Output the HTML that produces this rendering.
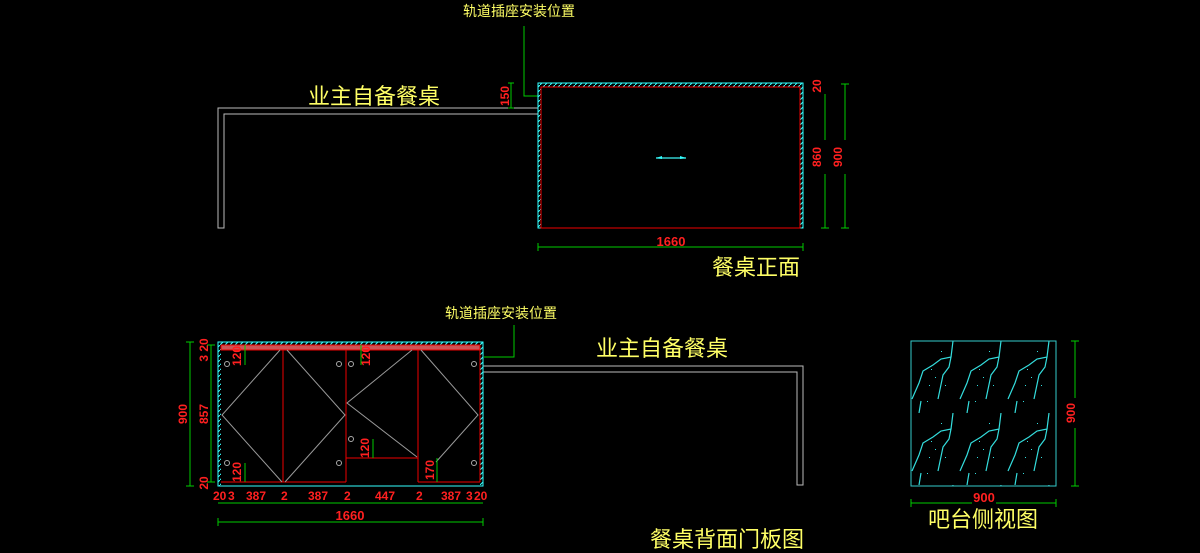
<!DOCTYPE html>
<html><head><meta charset="utf-8"><style>
html,body{margin:0;padding:0;background:#000;width:1200px;height:553px;overflow:hidden}
svg{display:block}
text{font-family:"Liberation Sans","Noto Sans CJK SC",sans-serif}
.y{fill:#ffff66}
.r{fill:#ff2020;font-family:"Liberation Sans Narrow","Liberation Sans",sans-serif;font-weight:bold}
</style></head><body>
<svg width="1200" height="553" viewBox="0 0 1200 553" xmlns="http://www.w3.org/2000/svg">
<defs>
<pattern id="hatch" width="5" height="5" patternUnits="userSpaceOnUse">
<path d="M0,5 L5,0" stroke="#3ff" stroke-width="1"/>
</pattern>
<pattern id="crack" x="911" y="341" width="48" height="72" patternUnits="userSpaceOnUse">
<path d="M1,58 L8,42 L12,30 L22,24 L30,18 L40,16 L38,26 L32,34 L27,58 M40,16 L42,0 M10,60 L8,72" stroke="#3dd" stroke-width="1.2" fill="none"/>
<g fill="#3dd"><rect x="20" y="28" width="1" height="1"/><rect x="24" y="36" width="1" height="1"/><rect x="18" y="44" width="1" height="1"/><rect x="34" y="44" width="1" height="1"/><rect x="30" y="10" width="1" height="1"/><rect x="16" y="60" width="1" height="1"/></g>
</pattern>
</defs>

<!-- TOP VIEW -->
<text x="463" y="16" class="y" font-size="14">轨道插座安装位置</text>
<path d="M524,26 V96 H538" stroke="#0c0" fill="none"/>
<text x="308" y="104" class="y" font-size="22">业主自备餐桌</text>
<path d="M538,108 H218 V228 H224 V114 H538" stroke="#bbb" fill="none"/>
<rect x="538" y="83" width="265" height="145" fill="none" stroke="#3ff" stroke-width="1"/>
<rect x="538" y="83" width="265" height="4" fill="url(#hatch)"/>
<rect x="538" y="83" width="3" height="145" fill="url(#hatch)"/>
<rect x="800" y="83" width="3" height="145" fill="url(#hatch)"/>
<rect x="541" y="87" width="259" height="141" fill="none" stroke="#e00"/>
<path d="M656,158 H686" stroke="#3cc" stroke-width="1.5"/>
<path d="M656,158 l6,-2 v3z M686,158 l-6,-2 v3z" fill="#3ff"/>
<path d="M511,83 V108 M508,83 h6 M508,108 h6" stroke="#0c0"/>
<text class="r" font-size="12" transform="translate(509,96) rotate(-90)" text-anchor="middle">150</text>
<path d="M825,84 V228 M821,228 h8 M845,84 V228 M841,84 h8 M841,228 h8" stroke="#0c0"/>
<rect x="812" y="80" width="14" height="14" fill="#000"/>
<text class="r" font-size="12" transform="translate(821,86) rotate(-90)" text-anchor="middle">20</text>
<rect x="810" y="140" width="18" height="34" fill="#000"/>
<text class="r" font-size="12" transform="translate(821,157) rotate(-90)" text-anchor="middle">860</text>
<rect x="832" y="140" width="18" height="34" fill="#000"/>
<text class="r" font-size="12" transform="translate(842,157) rotate(-90)" text-anchor="middle">900</text>
<path d="M538,247 H803 M538,243 v8 M803,243 v8" stroke="#0c0"/>
<text x="671" y="246" class="r" font-size="13" text-anchor="middle">1660</text>
<text x="712" y="275" class="y" font-size="22">餐桌正面</text>

<!-- BACK VIEW -->
<text x="445" y="318" class="y" font-size="14">轨道插座安装位置</text>
<path d="M514,325 V357 H484" stroke="#0c0" fill="none"/>
<text x="596" y="356" class="y" font-size="22">业主自备餐桌</text>
<path d="M483,366 H803 V485 H797 V372 H483" stroke="#bbb" fill="none"/>
<rect x="218" y="342" width="265" height="144" fill="none" stroke="#3ff"/>
<rect x="218" y="342" width="265" height="3" fill="url(#hatch)"/>
<rect x="218" y="342" width="3" height="144" fill="url(#hatch)"/>
<rect x="480" y="342" width="3" height="144" fill="url(#hatch)"/>
<rect x="221" y="345" width="259" height="5" fill="#c55" stroke="#e00"/>
<path d="M221,482 H346 M418,482 H480 M283,350 V482 M346,350 V482 M418,350 V482 M346,458 H418 M480,350 V482" stroke="#e00" fill="none"/>
<path d="M280,350 L222,415 L282,482 M287,350 L345,415 L285,482 M412,350 L347,403 L417,457 M421,350 L478,415 L436,462" stroke="#999" fill="none"/>
<g fill="none" stroke="#aaa"><circle cx="227" cy="364" r="2.5"/><circle cx="339" cy="364" r="2.5"/><circle cx="351" cy="364" r="2.5"/><circle cx="474" cy="364" r="2.5"/><circle cx="227" cy="463" r="2.5"/><circle cx="339" cy="463" r="2.5"/><circle cx="351" cy="439" r="2.5"/><circle cx="474" cy="463" r="2.5"/></g>
<path d="M245,345 V365 M361,345 V365 M245,463 V482 M373,439 V458 M437,458 V482" stroke="#0c0"/>
<text class="r" font-size="12" transform="translate(241,356) rotate(-90)" text-anchor="middle">120</text>
<text class="r" font-size="12" transform="translate(370,356) rotate(-90)" text-anchor="middle">120</text>
<text class="r" font-size="12" transform="translate(241,472) rotate(-90)" text-anchor="middle">120</text>
<text class="r" font-size="12" transform="translate(369,448) rotate(-90)" text-anchor="middle">120</text>
<text class="r" font-size="12" transform="translate(434,470) rotate(-90)" text-anchor="middle">170</text>
<path d="M190,342 V486 M186,342 h8 M186,486 h8 M211,345 V482 M207,345 h8 M207,482 h8" stroke="#0c0"/>
<text class="r" font-size="12" transform="translate(187,414) rotate(-90)" text-anchor="middle">900</text>
<text class="r" font-size="12" transform="translate(208,414) rotate(-90)" text-anchor="middle">857</text>
<text class="r" font-size="12" transform="translate(208,350) rotate(-90)" text-anchor="middle">3 20</text>
<text class="r" font-size="12" transform="translate(208,483) rotate(-90)" text-anchor="middle">20</text>
<path d="M218,503 H483" stroke="#0c0"/>
<g class="r" font-size="12">
<text x="213" y="500">20</text><text x="228" y="500">3</text><text x="246" y="500">387</text>
<text x="281" y="500">2</text><text x="308" y="500">387</text><text x="344" y="500">2</text>
<text x="375" y="500">447</text><text x="416" y="500">2</text><text x="441" y="500">387</text>
<text x="466" y="500">3</text><text x="474" y="500">20</text>
</g>
<path d="M218,522 H483 M218,518 v8 M483,518 v8" stroke="#0c0"/>
<text x="350" y="520" class="r" font-size="13" text-anchor="middle">1660</text>
<text x="650" y="547" class="y" font-size="22">餐桌背面门板图</text>

<!-- SIDE VIEW -->
<rect x="911" y="341" width="145" height="145" fill="url(#crack)" stroke="#3cc"/>
<path d="M1075,341 V486 M1071,341 h8 M1071,486 h8" stroke="#0c0"/>
<rect x="1066" y="398" width="18" height="30" fill="#000"/>
<text class="r" font-size="12" transform="translate(1075,413) rotate(-90)" text-anchor="middle">900</text>
<path d="M911,503 H1056 M911,499 v8 M1056,499 v8" stroke="#0c0"/>
<rect x="972" y="490" width="24" height="14" fill="#000"/>
<text x="984" y="502" class="r" font-size="13" text-anchor="middle">900</text>
<text x="928" y="527" class="y" font-size="22">吧台侧视图</text>
</svg>
</body></html>
